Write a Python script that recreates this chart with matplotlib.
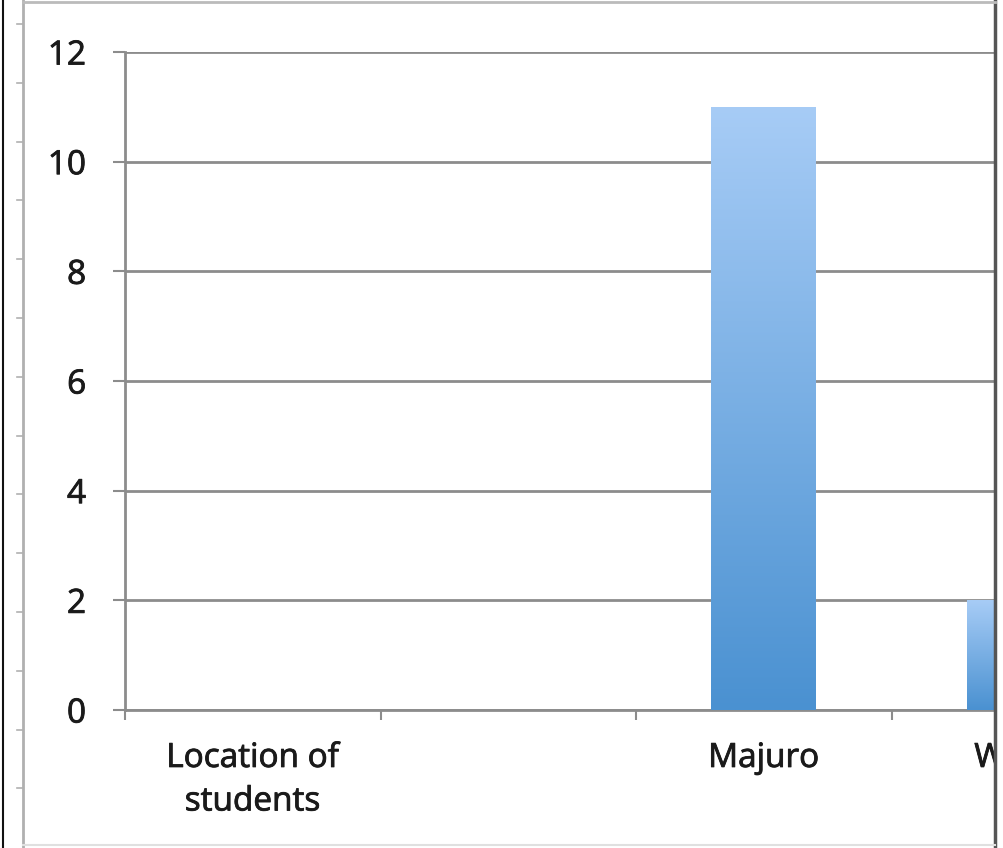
import numpy as np
import matplotlib
matplotlib.use("Agg")
import matplotlib.pyplot as plt
import matplotlib.patheffects as pe
from matplotlib.colors import LinearSegmentedColormap
from matplotlib.lines import Line2D
from matplotlib.patches import Rectangle

# Data
categories = ["Location of\nstudents", "", "Majuro", "Wotje"]
counts = [0, 0, 11, 2]
y_ticks = [0, 2, 4, 6, 8, 10, 12]

W, H = 1004, 848
fig = plt.figure(figsize=(W / 100, H / 100), dpi=100)
fig.patch.set_facecolor("white")

def fx(px):
    return px / W

def fy(py):
    return 1 - py / H

# Axes extends past the right edge of the sheet, so the last category is cut off
ax_left, ax_right = 125, 1147
ax_top, ax_bottom = 52, 710
ax = fig.add_axes([fx(ax_left), fy(ax_bottom), fx(ax_right - ax_left), (ax_bottom - ax_top) / H])

x = np.arange(len(categories))
bar_w = 0.41
grad = LinearSegmentedColormap.from_list("bluegrad", ["#4a91d1", "#a7ccf6"])

bars = ax.bar(x, counts, width=bar_w, color="none", edgecolor="none", zorder=3)
for rect, val in zip(bars, counts):
    if val <= 0:
        continue
    x0 = rect.get_x()
    img = np.linspace(0, 1, 256).reshape(-1, 1)
    im = ax.imshow(img, cmap=grad, origin="lower", aspect="auto",
                   extent=[x0, x0 + rect.get_width(), 0, val], zorder=3)
    im.set_clip_path(rect)

ax.set_xlim(-0.5, len(categories) - 0.5)
ax.set_ylim(0, 12)
ax.set_yticks(y_ticks)
ax.set_yticklabels([str(v) for v in y_ticks])
ax.set_xticks(x)
ax.set_xticklabels(categories)
ax.set_xticks(np.arange(len(categories) + 1) - 0.5, minor=True)

grid_col = "#8c8c8c"
ax.yaxis.grid(True, color=grid_col, linewidth=2.0, zorder=1)
ax.set_axisbelow(True)
for side in ["top", "right"]:
    ax.spines[side].set_visible(False)
for side in ["left", "bottom"]:
    ax.spines[side].set_color(grid_col)
    ax.spines[side].set_linewidth(2.0)

font = "Open Sans"
text_col = "#1a1a1a"
ax.tick_params(axis="y", which="major", length=9, width=1.5, color=grid_col,
               pad=19, labelsize=24, labelcolor=text_col)
ax.tick_params(axis="x", which="major", length=0, pad=23, labelsize=24, labelcolor=text_col)
ax.tick_params(axis="x", which="minor", length=7.5, width=1.5, color=grid_col)
for lbl in ax.get_xticklabels() + ax.get_yticklabels():
    lbl.set_fontfamily(font)
    lbl.set_path_effects([pe.withStroke(linewidth=0.6, foreground=text_col)])
for lbl in ax.get_xticklabels():
    lbl.set_linespacing(1.42)

# Sheet frame and ruler around the chart
fig.add_artist(Rectangle((fx(996), 0), 1, 1, transform=fig.transFigure,
                         facecolor="white", edgecolor="none", zorder=10))
fig.add_artist(Line2D([fx(3), fx(3)], [0, 1], transform=fig.transFigure,
                      color="#111111", linewidth=1.5, zorder=11))
fig.add_artist(Line2D([fx(995), fx(995)], [0, 1], transform=fig.transFigure,
                      color="#555555", linewidth=2.5, zorder=11))
fig.add_artist(Line2D([fx(23), fx(23)], [0, 1], transform=fig.transFigure,
                      color="#b0b0b0", linewidth=2.0, zorder=11))
fig.add_artist(Line2D([fx(23), fx(995)], [fy(2), fy(2)], transform=fig.transFigure,
                      color="#bbbbbb", linewidth=2.0, zorder=11))
fig.add_artist(Line2D([fx(23), fx(995)], [fy(845), fy(845)], transform=fig.transFigure,
                      color="#e0e0e0", linewidth=1.5, zorder=11))
for ty in np.arange(24, 800, 58.8):
    fig.add_artist(Line2D([fx(17), fx(23)], [fy(ty), fy(ty)], transform=fig.transFigure,
                          color="#b0b0b0", linewidth=1.2, zorder=11))

fig.savefig("out.png", dpi=100, facecolor="white")
